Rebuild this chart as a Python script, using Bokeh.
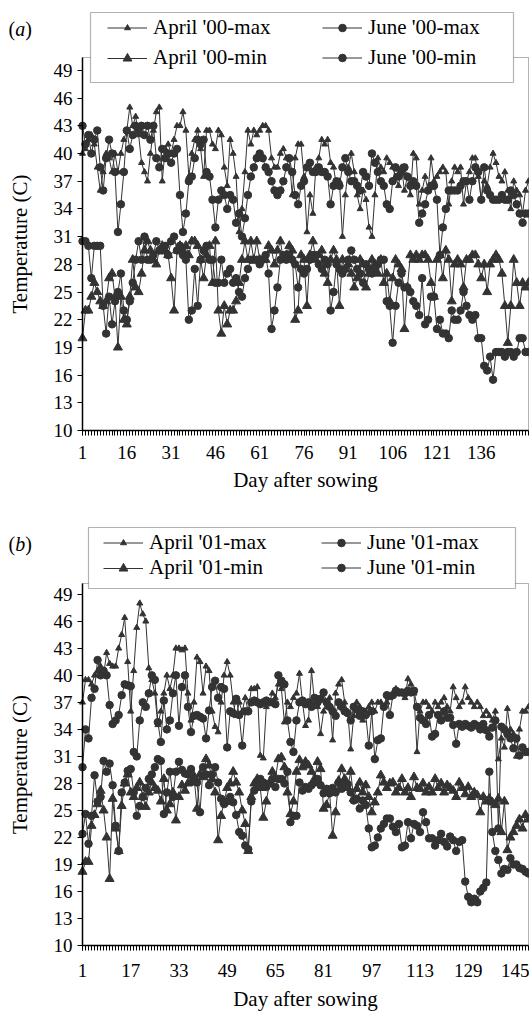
from bokeh.plotting import figure
from bokeh.models import (Range1d, FixedTicker, Legend, LegendItem, Label,
                          BoxAnnotation)
from bokeh.layouts import column
from bokeh.embed import file_html
from bokeh.resources import INLINE

# ---------------- data (a) 2000 ----------------
a_apr_max = [40.0, 40.5, 41.5, 42.0, 41.0, 38.5, 36.0, 38.0, 40.0, 39.5,
             38.0, 40.0, 38.0, 40.0, 41.5, 42.5, 45.0, 43.0, 44.0, 42.0,
             39.0, 38.0, 37.0, 40.0, 42.5, 44.5, 45.0, 37.0, 40.5, 41.0,
             40.0, 41.5, 43.0, 43.0, 44.5, 42.5, 37.5, 40.0, 41.5, 42.5,
             40.5, 37.5, 42.5, 42.5, 41.0, 40.5, 42.5, 42.0, 38.5, 36.5,
             41.5, 40.0, 37.5, 31.5, 34.0, 38.0, 42.5, 41.0, 42.5, 42.0,
             42.5, 43.0, 43.0, 42.5, 39.5, 38.5, 38.5, 40.0, 40.5, 39.5,
             39.5, 35.5, 39.5, 41.0, 41.0, 37.5, 31.5, 35.5, 33.5, 38.5,
             39.5, 41.5, 41.0, 41.5, 39.0, 38.5, 36.5, 37.0, 31.0, 35.5,
             38.5, 40.0, 38.0, 35.5, 34.0, 36.0, 35.0, 32.0, 31.0, 35.5,
             39.5, 38.5, 38.0, 39.5, 39.0, 38.5, 37.5, 36.5, 38.5, 36.0,
             37.5, 35.5, 40.0, 39.5, 34.5, 36.0, 37.5, 36.0, 39.5, 37.0,
             37.5, 38.0, 38.5, 38.0, 34.5, 37.0, 38.5, 38.0, 38.5, 34.5,
             37.0, 38.0, 39.5, 39.5, 37.5, 35.0, 37.0, 36.5, 38.5, 40.0,
             39.0, 37.5, 37.0, 38.0, 36.0, 34.0, 37.0, 36.0, 35.5, 33.5,
             36.0, 37.0]
a_jun_max = [43.0, 41.0, 42.0, 40.0, 41.5, 42.5, 38.5, 36.0, 39.5, 41.5,
             40.0, 38.0, 31.5, 34.5, 38.0, 42.5, 40.5, 42.0, 43.0, 42.5,
             43.0, 42.0, 43.0, 41.5, 43.0, 39.5, 38.5, 40.5, 39.5, 40.0,
             39.0, 40.0, 40.5, 35.5, 31.5, 33.5, 37.0, 37.5, 39.5, 41.5,
             41.0, 41.5, 38.0, 37.5, 35.0, 32.0, 35.0, 36.0, 35.5, 34.0,
             35.5, 35.0, 32.5, 33.5, 31.0, 33.0, 35.5, 37.5, 38.5, 39.5,
             40.0, 39.5, 38.5, 38.0, 37.0, 36.0, 35.5, 36.0, 37.0, 38.5,
             39.5, 38.0, 35.5, 34.5, 36.5, 37.0, 38.5, 39.0, 38.0, 38.0,
             38.5, 38.0, 38.0, 37.5, 34.5, 36.5, 37.0, 36.5, 38.5, 39.5,
             38.0, 37.0, 37.0, 36.5, 36.0, 38.0, 37.5, 36.5, 40.0, 39.0,
             38.0, 37.0, 36.5, 34.5, 34.0, 37.0, 38.5, 37.5, 38.0, 38.5,
             37.5, 36.5, 37.0, 36.5, 32.5, 33.5, 34.5, 36.0, 36.5, 36.5,
             35.0, 29.0, 32.0, 34.0, 36.0, 36.0, 36.0, 36.0, 36.5, 37.0,
             37.0, 35.0, 37.0, 38.5, 38.0, 35.0, 38.5, 36.0, 35.5, 35.0,
             35.0, 35.0, 35.5, 35.0, 35.0, 36.0, 35.5, 34.5, 33.5, 32.5,
             33.5, 33.5]
a_apr_min = [20.0, 23.0, 23.0, 24.5, 26.0, 25.0, 24.0, 23.5, 24.0, 26.5,
             27.0, 24.5, 19.0, 24.5, 22.0, 21.5, 24.5, 28.5, 25.5, 25.0,
             27.0, 29.5, 30.5, 29.5, 28.5, 28.0, 29.5, 30.0, 29.5, 29.0,
             26.5, 23.0, 29.5, 30.0, 29.5, 30.0, 29.0, 30.5, 30.5, 30.0,
             28.5, 26.5, 29.0, 30.0, 26.0, 30.5, 23.0, 20.5, 23.5, 21.5,
             23.0, 23.0, 24.0, 26.0, 28.5, 30.5, 28.5, 30.5, 28.5, 30.5,
             28.5, 28.5, 28.5, 30.0, 29.5, 28.0, 29.5, 30.5, 28.5, 29.0,
             30.0, 29.5, 22.0, 23.0, 29.0, 28.5, 23.5, 29.0, 30.5, 28.5,
             29.0, 29.5, 27.0, 26.0, 28.5, 29.5, 28.5, 23.5, 28.5, 27.5,
             28.0, 27.0, 25.5, 26.5, 28.5, 28.0, 25.5, 27.0, 28.5, 28.0,
             27.0, 28.5, 26.0, 27.0, 24.0, 26.5, 28.5, 28.0, 27.5, 21.0,
             25.5, 29.0, 28.5, 29.0, 28.5, 29.0, 29.0, 28.5, 26.0, 24.5,
             28.5, 29.0, 26.5, 29.5, 28.5, 24.0, 28.0, 28.5, 28.0, 25.5,
             28.5, 28.5, 29.0, 29.0, 28.0, 26.5, 28.0, 25.0, 28.0, 28.5,
             29.0, 28.5, 27.0, 23.5, 19.5, 23.5, 28.5, 26.0, 23.5, 26.0,
             25.5, 26.0]
a_jun_min = [30.5, 30.5, 30.0, 26.5, 30.0, 30.0, 30.0, 23.5, 20.5, 24.5,
             21.5, 24.0, 25.0, 27.0, 23.0, 22.0, 24.0, 26.0, 28.5, 30.5,
             28.5, 31.0, 28.5, 28.5, 29.0, 30.5, 29.5, 29.5, 30.0, 29.0,
             30.5, 31.0, 29.5, 30.0, 29.0, 28.5, 22.0, 23.0, 27.5, 23.5,
             28.5, 29.5, 30.0, 28.5, 28.5, 26.0, 26.0, 28.5, 26.0, 27.0,
             27.5, 26.0, 26.5, 25.0, 24.5, 26.5, 27.5, 28.5, 28.5, 28.5,
             28.0, 28.5, 29.0, 27.0, 21.0, 23.0, 25.5, 28.5, 29.0, 28.5,
             29.0, 28.5, 28.0, 25.5, 27.5, 27.0, 27.5, 28.5, 29.0, 29.0,
             28.0, 27.5, 28.5, 28.0, 23.0, 25.0, 28.0, 27.5, 27.0, 27.5,
             28.5, 29.5, 28.5, 27.5, 27.0, 26.0, 28.0, 27.5, 27.0, 27.5,
             28.0, 28.5, 28.5, 24.0, 23.5, 19.5, 23.5, 26.0, 27.0, 25.5,
             25.5, 25.0, 24.0, 23.5, 22.5, 26.5, 21.5, 22.0, 24.5, 24.5,
             21.0, 22.0, 20.5, 20.5, 20.0, 23.0, 22.0, 22.0, 23.0, 25.0,
             23.5, 22.5, 22.0, 22.5, 20.0, 20.0, 17.0, 16.5, 18.0, 15.5,
             18.5, 18.5, 18.5, 18.0, 18.5, 18.5, 18.0, 18.5, 20.0, 20.0,
             18.5, 18.5]
a_xticks = [1, 16, 31, 46, 61, 76, 91, 106, 121, 136]

# ---------------- data (b) 2001 ----------------
b_apr_max = [37.0, 39.5, 39.5, 39.0, 40.0, 40.5, 41.0, 40.0, 42.5, 41.3,
             41.0, 41.0, 43.0, 44.5, 46.4, 41.5, 36.0, 40.5, 45.3, 48.0,
             46.8, 46.0, 40.8, 39.5, 38.0, 34.5, 36.0, 38.0, 40.0, 38.5,
             40.0, 43.0, 43.0, 42.8, 43.0, 38.0, 35.0, 37.0, 42.0, 41.5,
             38.0, 41.0, 40.5, 36.0, 34.3, 33.7, 37.0, 40.0, 41.5, 40.0,
             37.0, 35.5, 37.0, 36.0, 37.5, 36.0, 38.5, 38.5, 38.7, 31.1,
             30.8, 36.5, 37.0, 38.0, 37.5, 39.0, 38.5, 34.8, 37.0, 36.5,
             37.5, 38.0, 40.2, 37.0, 34.4, 35.0, 40.5, 37.0, 36.5, 33.5,
             36.0, 36.5, 37.5, 32.8, 38.0, 39.0, 39.5, 37.0, 36.0, 31.8,
             35.5, 37.0, 36.5, 35.0, 36.0, 36.5, 37.0, 36.0, 37.0, 37.0,
             36.5, 37.0, 37.5, 38.0, 38.5, 38.0, 38.0, 37.5, 39.6, 39.0,
             38.0, 31.5, 36.0, 37.0, 37.0, 36.5, 36.0, 37.0, 36.5, 37.0,
             37.5, 36.5, 36.0, 38.7, 37.5, 36.5, 37.0, 38.7, 37.5, 37.0,
             36.5, 37.0, 36.5, 35.5, 36.0, 35.5, 35.0, 36.0, 30.7, 33.0,
             32.0, 36.3, 34.0, 33.5, 31.0, 34.0, 36.0, 36.0, 36.5]
b_jun_max = [29.8, 34.0, 33.0, 37.5, 38.5, 41.7, 40.0, 40.5, 40.0, 36.7,
             34.6, 35.0, 35.6, 37.8, 39.0, 38.9, 38.8, 31.5, 31.0, 35.0,
             37.0, 36.5, 38.0, 40.0, 39.5, 34.8, 32.6, 37.2, 34.0, 35.0,
             38.0, 40.0, 34.4, 38.7, 40.0, 36.5, 33.7, 35.5, 35.6, 35.4,
             35.2, 33.0, 36.1, 38.7, 39.4, 37.5, 38.7, 38.5, 32.0, 36.0,
             35.8, 37.4, 35.6, 32.2, 36.0, 36.0, 37.0, 37.2, 37.0, 36.8,
             37.0, 37.2, 37.0, 37.0, 36.8, 40.0, 39.4, 39.0, 35.0, 32.6,
             31.5, 35.0, 37.0, 37.2, 36.8, 37.0, 36.5, 37.5, 37.0, 37.4,
             38.1, 37.0, 36.5, 36.0, 35.5, 37.0, 36.5, 36.0, 35.8, 35.0,
             36.5, 36.2, 35.5, 36.0, 35.6, 32.2, 36.0, 30.7, 32.8, 33.0,
             36.5, 37.8, 35.6, 37.8, 38.3, 38.1, 38.1, 38.0, 38.3, 38.1,
             38.3, 36.5, 35.3, 35.0, 34.6, 35.6, 33.2, 33.5, 35.6, 35.0,
             36.0, 35.3, 35.3, 34.5, 32.4, 34.6, 34.3, 34.6, 34.4, 34.2,
             34.6, 34.4, 34.0, 34.6, 33.9, 33.2, 34.2, 35.0, 23.0, 34.3,
             34.0, 33.5, 33.0, 31.9, 33.0, 31.1, 32.0, 31.5, 31.5]
b_apr_min = [18.2, 19.3, 19.3, 23.3, 24.5, 25.7, 27.2, 25.0, 22.0, 17.4,
             26.3, 23.0, 20.5, 25.5, 28.0, 29.0, 27.0, 26.5, 27.5, 28.1,
             26.5, 25.4, 27.0, 28.1, 27.5, 27.2, 26.0, 28.5, 25.0, 25.7,
             27.0, 23.9, 26.5, 27.8, 27.2, 28.0, 28.1, 28.8, 25.2, 29.0,
             28.7, 30.7, 30.0, 28.5, 27.0, 21.7, 24.4, 26.0, 27.5, 28.0,
             29.3, 28.1, 27.0, 25.0, 23.5, 20.5, 26.5, 28.0, 28.5, 27.5,
             24.2, 26.0, 28.0, 29.3, 28.5, 30.7, 30.9, 29.8, 27.0, 24.6,
             26.0, 29.3, 30.6, 29.8, 30.4, 30.0, 29.3, 28.5, 30.4, 29.6,
             25.2, 25.6, 27.0, 22.2, 24.8, 28.3, 29.6, 28.5, 27.5, 29.3,
             26.3, 27.4, 28.1, 27.0, 27.8, 26.5, 24.8, 25.9, 27.0, 28.9,
             28.1, 27.5, 28.0, 28.1, 27.0, 27.5, 28.5, 27.0, 27.5, 26.5,
             28.7, 27.5, 27.4, 28.0, 27.0, 27.6, 27.0, 28.5, 27.5, 28.0,
             27.0, 27.8, 27.5, 27.2, 26.5, 28.1, 27.5, 26.8, 27.6, 26.5,
             27.0, 26.7, 24.8, 26.5, 26.0, 26.3, 25.9, 25.6, 26.3, 22.6,
             26.0, 20.6, 22.0, 22.6, 23.3, 24.0, 23.0, 24.5, 24.0]
b_jun_min = [22.4, 24.6, 21.3, 24.4, 28.9, 26.0, 26.5, 30.5, 29.3, 30.2,
             27.8, 23.3, 20.5, 27.0, 28.1, 29.4, 29.6, 27.0, 24.4, 25.5,
             26.5, 27.5, 28.5, 29.0, 29.8, 30.7, 30.5, 24.6, 27.0, 29.3,
             26.5, 29.3, 30.4, 29.5, 29.1, 29.0, 29.6, 28.5, 28.1, 24.8,
             29.8, 29.0, 27.8, 29.0, 29.8, 28.1, 26.3, 25.7, 26.0, 26.5,
             25.9, 24.5, 22.6, 22.2, 21.1, 20.7, 26.0, 27.2, 28.0, 28.5,
             28.1, 27.6, 28.0, 28.5, 27.6, 28.5, 28.5, 28.0, 29.3, 23.7,
             24.4, 24.4, 28.1, 27.2, 27.6, 27.4, 27.8, 28.1, 28.5, 27.8,
             26.9, 27.4, 26.9, 27.5, 27.0, 28.1, 27.4, 27.8, 27.9, 27.0,
             26.1, 26.3, 25.2, 26.1, 25.6, 23.0, 20.9, 21.1, 22.0, 23.0,
             23.5, 24.1, 24.1, 23.2, 22.6, 23.5, 20.9, 21.1, 23.7, 21.9,
             23.5, 23.3, 22.6, 24.8, 23.7, 21.9, 21.9, 21.1, 21.7, 22.4,
             21.5, 21.0, 22.1, 21.7, 20.5, 21.5, 21.7, 17.1, 15.4, 14.8,
             15.2, 14.8, 16.0, 16.4, 17.0, 29.3, 22.6, 20.5, 19.5, 18.0,
             18.5, 18.4, 19.7, 19.0, 19.0, 18.6, 18.5, 18.2, 18.0]
b_xticks = [1, 17, 33, 49, 65, 81, 97, 113, 129, 145]

y_ticks = [10, 13, 16, 19, 22, 25, 28, 31, 34, 37, 40, 43, 46, 49]
a_names = ["April '00-max", "June '00-max", "April '00-min", "June '00-min"]
b_names = ["April '01-max", "June '01-max", "April '01-min", "June '01-min"]

FONT = "Liberation Serif"
INK = "#333333"
W = 529
TEXT_H = 24  # line height of a 21px legend label


def panel(series, names, xticks, tag, height, box_top, box_bottom, ymax,
          leg_glyph_x, row_centers, col_pitch, lbox, tag_y,
          lab_standoff, title_standoff):
    """Geometry args are px from the figure's top-left corner."""
    n = max(len(s) for s in series)
    px_left, px_right = 82, 528
    xs = (px_right - px_left) / (n - 1)
    ys = (box_bottom - box_top) / (ymax - 10)
    p = figure(width=W, height=height, output_backend="svg",
               toolbar_location=None,
               x_range=Range1d(1 - px_left / xs, n + (W - px_right) / xs),
               y_range=Range1d(10 - (height - box_bottom) / ys,
                               ymax + box_top / ys),
               min_border=0, min_border_left=0, min_border_right=0,
               min_border_top=0, min_border_bottom=0)
    p.outline_line_color = None
    p.xgrid.grid_line_color = None
    p.ygrid.grid_line_color = None

    # plot box (top / right edges)
    p.add_layout(BoxAnnotation(left=1, right=n, bottom=10, top=ymax,
                               fill_alpha=0, line_color="black",
                               line_width=1, level="underlay"))

    xa = p.xaxis[0]
    xa.fixed_location = 10
    xa.bounds = (1, n)
    xa.ticker = FixedTicker(ticks=xticks, minor_ticks=list(range(1, n + 1)))
    xa.axis_label = "Day after sowing"
    ya = p.yaxis[0]
    ya.fixed_location = 1
    ya.bounds = (10, ymax)
    ya.ticker = FixedTicker(ticks=y_ticks)
    ya.axis_label = "Temperature (C)"
    for ax in (xa, ya):
        ax.axis_line_color = "black"
        ax.axis_line_width = 1.5
        ax.major_tick_line_color = "black"
        ax.major_tick_out = 5
        ax.major_tick_in = 0
        ax.major_label_text_font = FONT
        ax.major_label_text_font_size = "19px"
        ax.major_label_text_color = "black"
        ax.axis_label_text_font = FONT
        ax.axis_label_text_font_size = "21px"
        ax.axis_label_text_font_style = "normal"
        ax.axis_label_text_color = "black"
    xa.minor_tick_line_color = "black"
    xa.minor_tick_out = 5
    xa.minor_tick_in = 0
    xa.major_label_standoff = lab_standoff
    xa.axis_label_standoff = title_standoff
    ya.minor_tick_line_color = None
    ya.major_label_standoff = 5
    ya.axis_label_standoff = 19

    markers = ["triangle", "circle", "triangle", "circle"]
    sizes = [6, 7.5, 9, 7.5]
    items = []
    for vals, name, mk, sz in zip(series, names, markers, sizes):
        days = list(range(1, len(vals) + 1))
        lr = p.line(days, vals, line_color=INK, line_width=1)
        sr = p.scatter(days, vals, marker=mk, size=sz, fill_color=INK,
                       line_color=INK)
        items.append(LegendItem(label=name, renderers=[lr, sr]))

    # legend frame (white box with black border)
    bl, br, bt, bb = lbox
    p.add_layout(BoxAnnotation(left=bl, right=br, top=height - bt,
                               bottom=height - bb,
                               left_units="screen", right_units="screen",
                               top_units="screen", bottom_units="screen",
                               fill_color="white", fill_alpha=1,
                               line_color="black", line_width=1.2))
    # one legend entry each (2 x 2 grid) so marker sizes can differ
    glyph_h = [15, 19, 22, 19]
    for k, (item, gh) in enumerate(zip(items, glyph_h)):
        col, row = k % 2, k // 2
        item_h = max(gh, TEXT_H)
        leg = Legend(items=[item],
                     location=(leg_glyph_x + col * col_pitch,
                               height - row_centers[row] - item_h / 2),
                     padding=0, spacing=0, margin=0,
                     glyph_width=40, glyph_height=gh, label_height=gh,
                     label_standoff=6,
                     border_line_color=None, background_fill_alpha=0,
                     label_text_font=FONT, label_text_font_size="21px",
                     label_text_color="black")
        p.add_layout(leg, "center")

    # panel tag "(a)" / "(b)" with italic letter
    for txt, dx, style in (("(", 8, "normal"), (tag, 14.7, "italic"),
                           (")", 24.7, "normal")):
        p.add_layout(Label(x=dx, y=height - tag_y, x_units="screen",
                           y_units="screen", text=txt, text_font=FONT,
                           text_font_size="20px", text_font_style=style,
                           text_color="black", text_baseline="middle",
                           text_align="left"))
    return p


# geometry (px from each figure's top-left): plot box, legend, tag
pa = panel([a_apr_max, a_jun_max, a_apr_min, a_jun_min], a_names, a_xticks,
           "a", 502, 57, 430, 50.4, 107, (28, 58), 215, (90, 513, 12, 82), 28,
           10, 6)
pb = panel([b_apr_max, b_jun_max, b_apr_min, b_jun_min], b_names, b_xticks,
           "b", 509, 81, 443, 50.2, 103, (41, 66), 218, (88, 515, 25, 86), 41,
           13, 7)

layout = column(pa, pb, spacing=0)
open("out.html", "w").write(file_html(layout, INLINE))
